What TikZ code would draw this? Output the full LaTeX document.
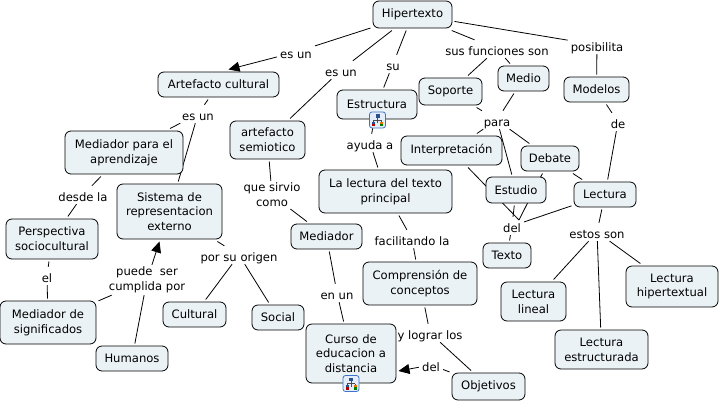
\documentclass[tikz,border=0pt]{standalone}
\usepackage{fontspec}
\setmainfont{DejaVu Sans}
\usetikzlibrary{arrows.meta,backgrounds}
\definecolor{boxfill}{HTML}{EBF2F5}
\definecolor{iconblue}{HTML}{3D73C8}
\definecolor{iconfill}{HTML}{E4EEFA}

\newcommand{\treeicon}[1]{%
  \begin{scope}[shift={(#1)}]
    \draw[black!70, line width=0.4pt] (0,-3) -- (0,3) (-4,0) -- (4,0) (-4,0) -- (-4,2) (4,0) -- (4,2);
    \fill[iconblue!70!black] (-2,-6) rectangle (2,-2.5);
    \fill[iconblue!70!black] (-5.5,1.5) rectangle (-2.5,3.5);
    \fill[red!70!black] (-5.5,3.5) rectangle (-2.5,6);
    \fill[orange!90!black] (2.5,1.5) rectangle (5.5,3.5);
    \fill[green!50!black] (2.5,3.5) rectangle (5.5,6);
  \end{scope}}

\begin{document}
\begin{tikzpicture}[
  x=1pt, y=-1pt,
  txt/.style={font=\fontsize{11.6}{14.7}\selectfont, align=center},
  box/.style={txt, draw, fill=boxfill, rounded corners=6pt, line width=0.8pt, inner sep=1pt, outer sep=2.5pt},
  sz/.style 2 args={minimum width=#1pt, minimum height=#2pt},
  lbl/.style={txt, inner xsep=3pt, inner ysep=2pt, text height=13pt, text depth=1pt},
  lbltwo/.style={txt, inner xsep=3pt, inner ysep=2pt},
  conn/.style={line width=0.8pt},
  arr/.style={-{Triangle[length=11pt, width=10pt]}, line width=0.8pt},
  icon/.style={draw=iconblue, fill=iconfill, rounded corners=2.5pt, line width=0.8pt, minimum size=16pt, inner sep=0pt}
]
  \useasboundingbox (0,0) rectangle (720,402);

  % concepts
  \node[box, sz={79}{27}] (hiper) at (412.5,14.5) {Hipertexto};
  \node[box, sz={121}{25}] (artef) at (218.5,84.5) {Artefacto cultural};
  \node[box, sz={118}{43}] (medap) at (124,152.5) {Mediador para el\\aprendizaje};
  \node[box, sz={75}{38}] (semio) at (267.5,140) {artefacto\\semiotico};
  \node[box, sz={80}{29}] (estru) at (377,104.5) {Estructura};
  \node[box, sz={63}{27}] (sopor) at (450.5,91.5) {Soporte};
  \node[box, sz={51}{25}] (medio) at (523.5,78.5) {Medio};
  \node[box, sz={65}{25}] (model) at (596.5,89.5) {Modelos};
  \node[box, sz={101}{29}] (inter) at (451.5,150.5) {Interpretación};
  \node[box, sz={58}{25}] (debat) at (550,158.5) {Debate};
  \node[box, sz={60}{26}] (estud) at (516,190) {Estudio};
  \node[box, sz={62}{25}] (lectu) at (605,194.5) {Lectura};
  \node[box, sz={133}{43}] (princ) at (385.5,191.5) {La lectura del texto\\principal};
  \node[box, sz={105}{55}] (siste) at (169.5,211.5) {Sistema de\\representacion\\externo};
  \node[box, sz={92}{40}] (persp) at (52,239) {Perspectiva\\sociocultural};
  \node[box, sz={96}{43}] (medsi) at (48,322.5) {Mediador de\\significados};
  \node[box, sz={72}{25}] (human) at (132,358.5) {Humanos};
  \node[box, sz={63}{25}] (cultu) at (194.5,314.5) {Cultural};
  \node[box, sz={52}{25}] (socia) at (278,317.5) {Social};
  \node[box, sz={71}{25}] (media) at (326.5,236.5) {Mediador};
  \node[box, sz={90}{59}] (curso) at (351,353.5) {Curso de\\educacion a\\distancia};
  \node[box, sz={114}{43}] (compr) at (420,283.5) {Comprensión de\\conceptos};
  \node[box, sz={48}{25}] (texto) at (507,255.5) {Texto};
  \node[box, sz={65}{39}] (linea) at (533.5,301.5) {Lectura\\lineal};
  \node[box, sz={93}{39}] (estrc) at (601.5,349.5) {Lectura\\estructurada};
  \node[box, sz={92}{41}] (hiptx) at (672,286.5) {Lectura\\hipertextual};
  \node[box, sz={73}{27}] (objet) at (488.5,386.5) {Objetivos};

  % link labels
  \node[lbl] (esuna) at (296,52) {es un};
  \node[lbl] (esunb) at (341,70) {es un};
  \node[lbl] (esunc) at (198,114) {es un};
  \node[lbl] (su) at (393,64) {su};
  \node[lbl] (funci) at (497,49) {sus funciones son};
  \node[lbl] (posib) at (597,45) {posibilita};
  \node[lbl] (para) at (497,120) {para};
  \node[lbl] (de) at (618,122) {de};
  \node[lbl] (ayuda) at (370,143) {ayuda a};
  \node[lbl] (desde) at (83,195) {desde la};
  \node[lbltwo] (sirvi) at (272,195) {que sirvio\\como};
  \node[lbl] (el) at (47,276) {el};
  \node[lbltwo] (puede) at (147,280) {puede\ \ ser\\cumplida por};
  \node[lbl] (orige) at (239,255) {por su origen};
  \node[lbl] (enun) at (337,293) {en un};
  \node[lbl] (facil) at (412,239) {facilitando la};
  \node[lbl] (logra) at (430,333) {y lograr los};
  \node[lbl] (dela) at (431,365) {del};
  \node[lbl] (delb) at (512,226) {del};
  \node[lbl] (estos) at (597,232) {estos son};
  \coordinate (delt) at (519,220);

  % tree icons
  \node[icon] (icona) at (377.5,120) {};
  \node[icon] (iconb) at (351,383.5) {};
  \treeicon{icona}
  \treeicon{iconb}

  % links
  \begin{scope}[on background layer]
    \draw[conn] (hiper) -- (esuna);
    \draw[arr] (esuna) -- ([xshift=10pt]artef.north);
    \draw[conn] (hiper) -- (esunb);
    \draw[conn] (esunb) -- (semio);
    \draw[conn] (hiper) -- (su);
    \draw[conn] (su) -- (estru);
    \draw[conn] (hiper) -- (funci);
    \draw[conn] (funci) -- (sopor);
    \draw[conn] (funci) -- (medio);
    \draw[conn] (hiper) -- (posib);
    \draw[conn] (posib) -- (model);
    \draw[conn] (sopor) -- (para);
    \draw[conn] (medio) -- (para);
    \draw[conn] (para) -- (inter);
    \draw[conn] (para) -- (estud);
    \draw[conn] (para) -- (debat);
    \draw[conn] (model) -- (de);
    \draw[conn] (de) -- (lectu);
    \draw[conn] (debat) -- (lectu);
    \draw[conn] (artef) -- (esunc);
    \draw[conn] (esunc) -- (medap);
    \draw[conn] (esunc) -- (siste);
    \draw[conn] (medap) -- (desde);
    \draw[conn] (desde) -- (persp);
    \draw[conn] (persp) -- (el);
    \draw[conn] (el) -- (medsi);
    \draw[conn] (medsi) -- (puede);
    \draw[conn] (human) -- (puede);
    \draw[arr] (puede) -- ([xshift=-10pt]siste.south);
    \draw[conn] (siste) -- (orige);
    \draw[conn] (orige) -- (cultu);
    \draw[conn] (orige) -- (socia);
    \draw[conn] (semio) -- (sirvi);
    \draw[conn] (sirvi) -- (media);
    \draw[conn] (media) -- (enun);
    \draw[conn] (enun) -- (curso);
    \draw[conn] (estru) -- (ayuda);
    \draw[conn] (ayuda) -- (princ);
    \draw[conn] (princ) -- (facil);
    \draw[conn] (facil) -- (compr);
    \draw[conn] (compr) -- (logra);
    \draw[conn] (logra) -- (objet);
    \draw[conn] (objet) -- (dela);
    \draw[arr] (dela) -- ([yshift=-17.5pt]curso.east);
    \draw[conn] (inter) -- (delt);
    \draw[conn] (debat) -- (delt);
    \draw[conn] (estud) -- (delb);
    \draw[conn] (lectu) -- (delb);
    \draw[conn] (delb) -- (texto);
    \draw[conn] (lectu) -- (estos);
    \draw[conn] (estos) -- (linea);
    \draw[conn] (estos) -- (estrc);
    \draw[conn] (estos) -- (hiptx);
  \end{scope}
\end{tikzpicture}
\end{document}
